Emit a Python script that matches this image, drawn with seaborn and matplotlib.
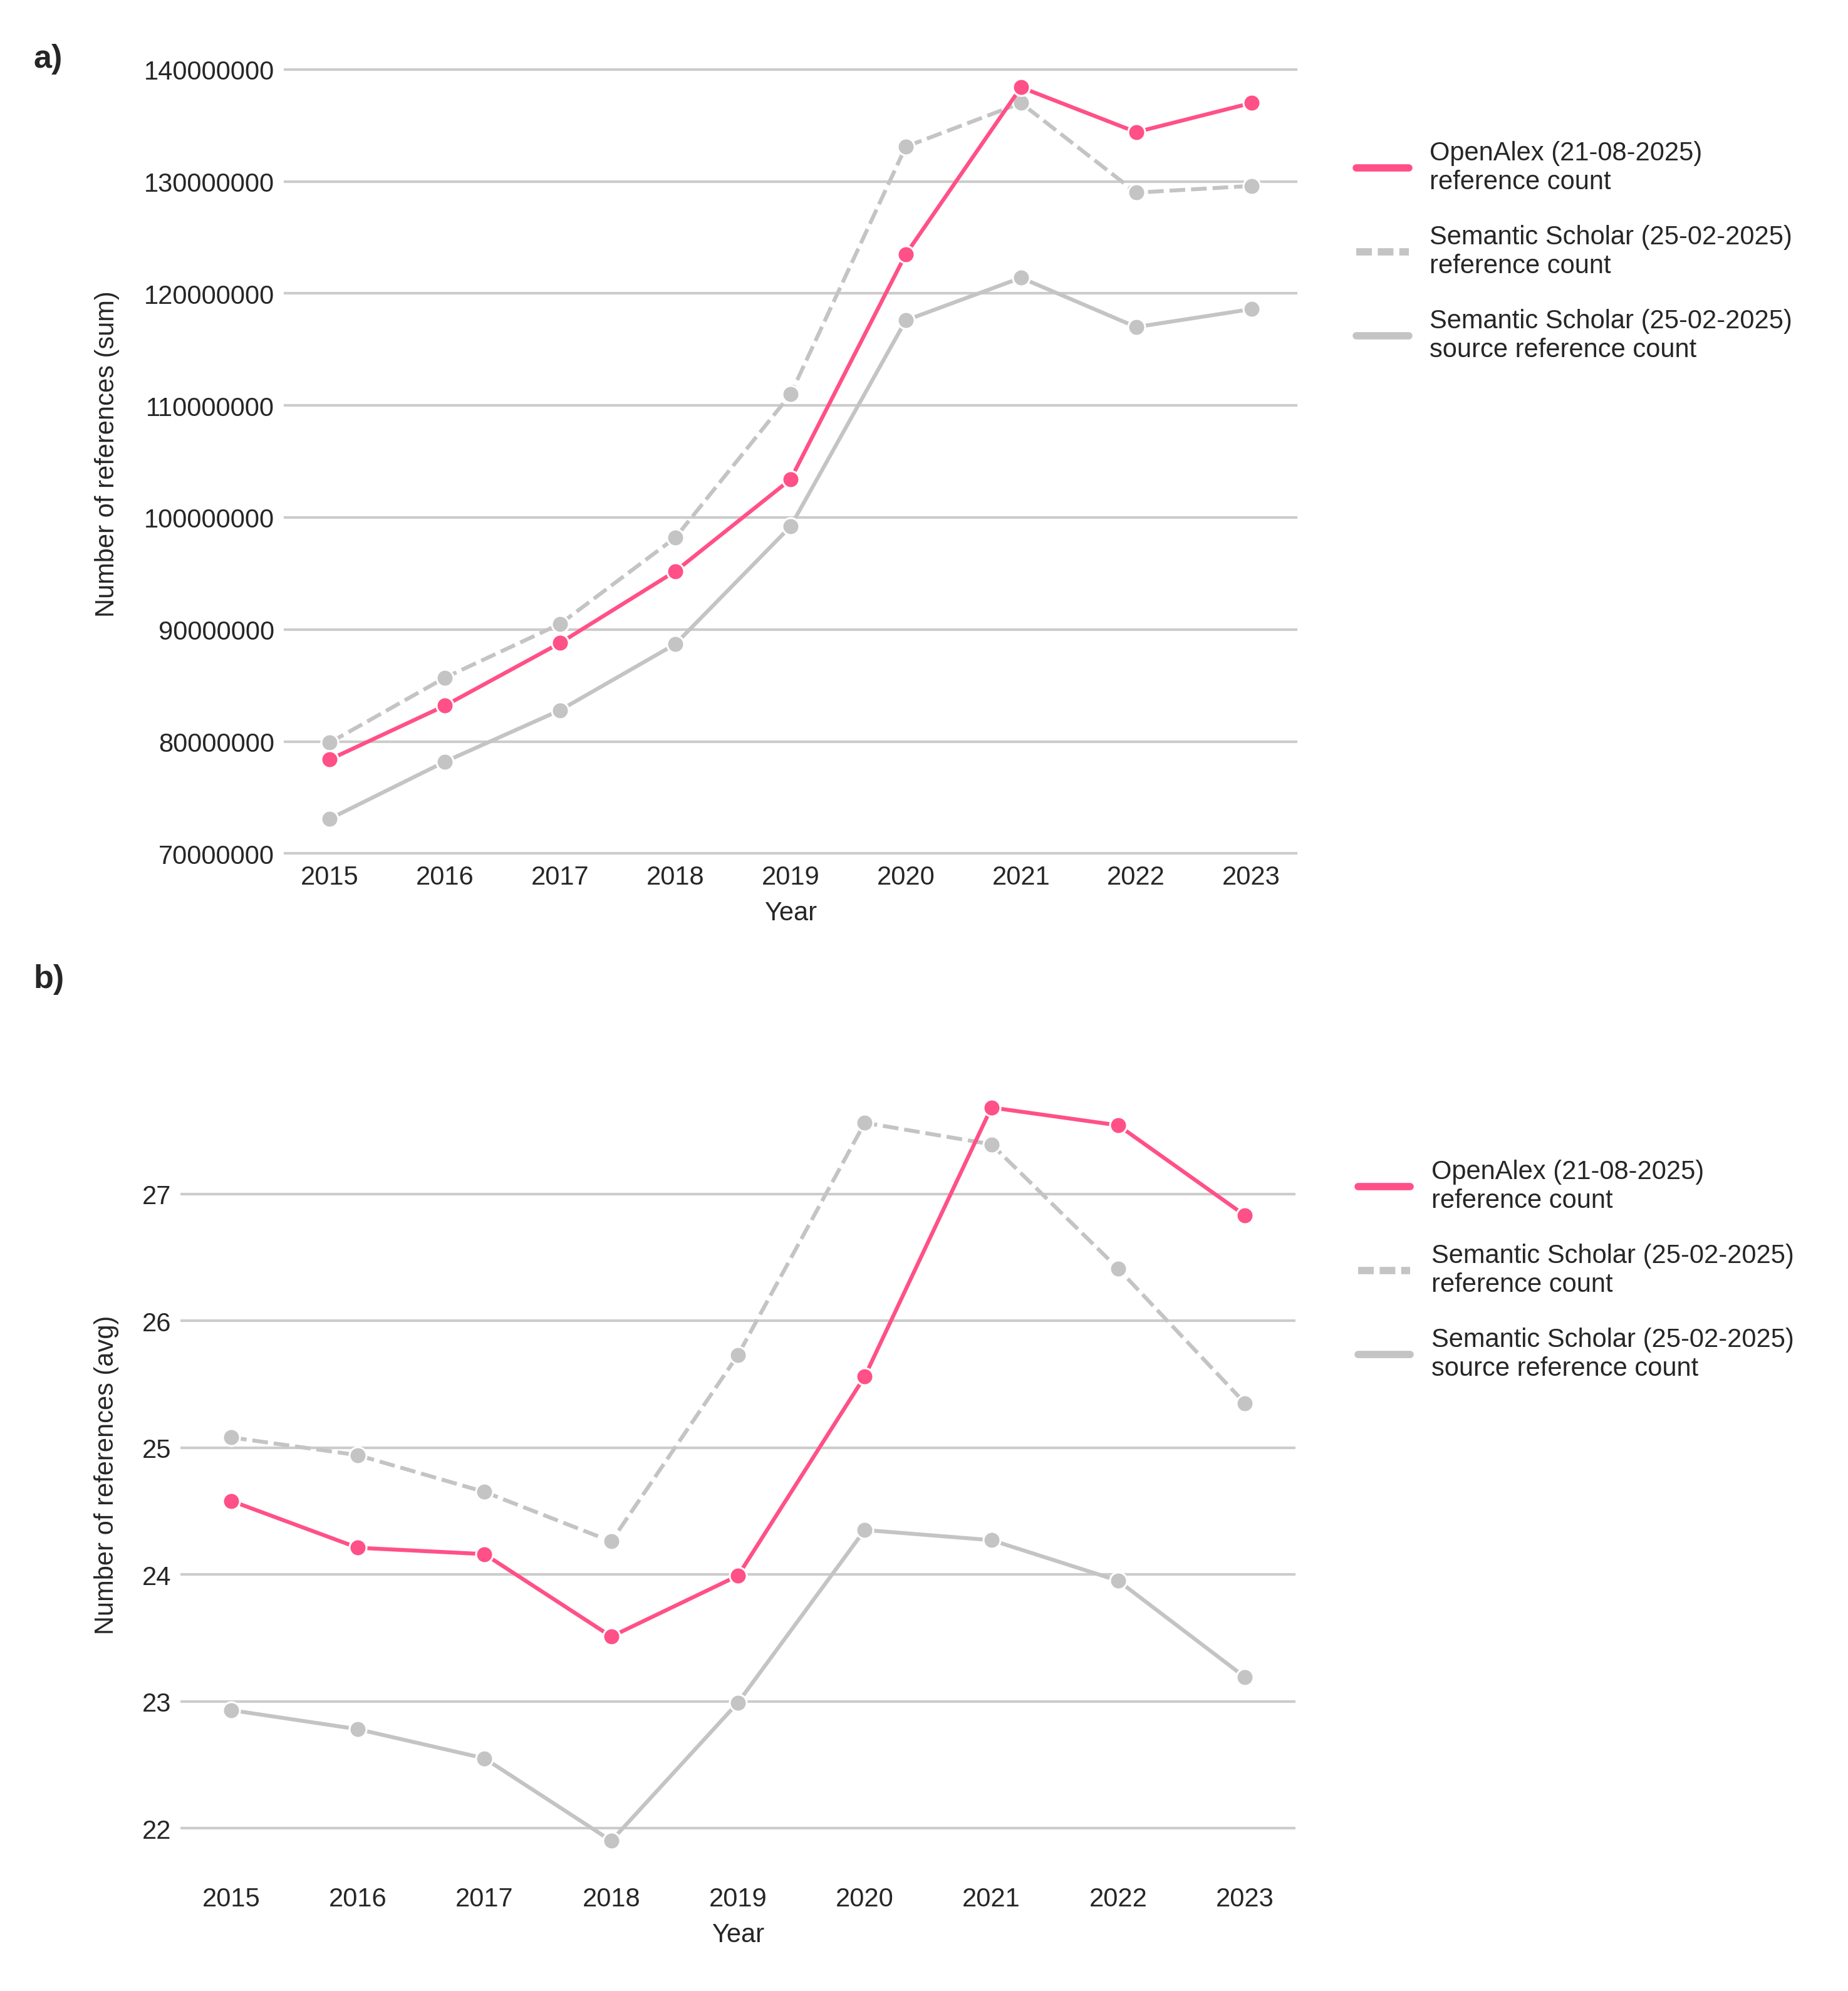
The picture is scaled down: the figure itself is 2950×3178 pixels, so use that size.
#!/usr/bin/env python3
"""
Reference counts per publication year: OpenAlex vs Semantic Scholar.
a) summed reference counts, b) average reference counts.
"""
import pandas as pd
import matplotlib
matplotlib.use('Agg')
import matplotlib.pyplot as plt
from matplotlib.lines import Line2D
import seaborn as sns

YEARS = [2015, 2016, 2017, 2018, 2019, 2020, 2021, 2022, 2023]

OA_LABEL = 'OpenAlex (21-08-2025)\nreference count'
SS_REF_LABEL = 'Semantic Scholar (25-02-2025)\nreference count'
SS_SRC_LABEL = 'Semantic Scholar (25-02-2025)\nsource reference count'

# a) sum of references per year
oa_sum = [78.4e6, 83.2e6, 88.8e6, 95.2e6, 103.4e6, 123.5e6, 138.4e6, 134.4e6, 137.0e6]
ss_ref_sum = [79.9e6, 85.7e6, 90.5e6, 98.2e6, 111.0e6, 133.1e6, 137.0e6, 129.0e6, 129.6e6]
ss_src_sum = [73.1e6, 78.2e6, 82.8e6, 88.7e6, 99.2e6, 117.6e6, 121.4e6, 117.0e6, 118.6e6]

# b) average number of references per year
oa_avg = [24.58, 24.21, 24.16, 23.51, 23.99, 25.56, 27.68, 27.54, 26.83]
ss_ref_avg = [25.08, 24.94, 24.65, 24.26, 25.73, 27.56, 27.39, 26.41, 25.35]
ss_src_avg = [22.93, 22.78, 22.55, 21.90, 22.99, 24.35, 24.27, 23.95, 23.19]

PINK = '#ff5087'
GREY = '#c4c4c4'
PALETTE = {OA_LABEL: PINK, SS_REF_LABEL: GREY, SS_SRC_LABEL: GREY}
DASHES = {OA_LABEL: '', SS_REF_LABEL: (4, 1.5), SS_SRC_LABEL: ''}
MARKERS = {OA_LABEL: 'o', SS_REF_LABEL: 'o', SS_SRC_LABEL: 'o'}
DRAW_ORDER = [SS_SRC_LABEL, SS_REF_LABEL, OA_LABEL]
LEGEND_ORDER = [OA_LABEL, SS_REF_LABEL, SS_SRC_LABEL]


def long_frame(oa, ss_ref, ss_src):
    parts = []
    for label, vals in [(OA_LABEL, oa), (SS_REF_LABEL, ss_ref), (SS_SRC_LABEL, ss_src)]:
        parts.append(pd.DataFrame({'year': YEARS, 'value': vals, 'source': label}))
    return pd.concat(parts, ignore_index=True)


def draw_panel(ax, df, ylabel, label_x, legend_y):
    sns.lineplot(data=df, x='year', y='value', hue='source', style='source',
                 hue_order=DRAW_ORDER, style_order=DRAW_ORDER,
                 palette=PALETTE, dashes=DASHES, markers=MARKERS,
                 markersize=6.5, linewidth=1.5, legend=False, ax=ax)
    ax.set_xticks(YEARS)
    ax.set_xticklabels([str(y) for y in YEARS])
    ax.set_xlabel('Year', fontsize=10)
    ax.set_ylabel(ylabel, fontsize=10)
    ax.yaxis.set_label_coords(label_x, 0.5)
    ax.tick_params(axis='both', labelsize=10, length=0)
    ax.grid(axis='x', visible=False)
    ax.grid(axis='y', color='#cccccc', linewidth=1.0)
    sns.despine(ax=ax, left=True, bottom=True)

    handles = []
    for lab in LEGEND_ORDER:
        h = Line2D([], [], color=PALETTE[lab], linewidth=2.8, solid_capstyle='round')
        if DASHES[lab]:
            h.set_dashes((6 / 2.8, 2.25 / 2.8))
        handles.append(h)
    ax.legend(handles, LEGEND_ORDER, loc='upper left', bbox_to_anchor=(1.035, legend_y),
              frameon=False, fontsize=10, labelspacing=1.15, handlelength=2.0)


def main():
    sns.set_theme(style='whitegrid')
    plt.rcParams['font.family'] = ['Liberation Sans', 'DejaVu Sans']
    plt.rcParams['text.color'] = '.15'

    fig = plt.figure(figsize=(2950 / 300, 3179 / 300), dpi=300)
    ax_a = fig.add_axes([0.1535, 0.5702, 0.5486, 0.404])
    ax_b = fig.add_axes([0.0976, 0.057, 0.6035, 0.405])

    draw_panel(ax_a, long_frame(oa_sum, ss_ref_sum, ss_src_sum),
               'Number of references (sum)', -0.162, 0.918)
    ax_a.ticklabel_format(axis='y', style='plain', useOffset=False)

    draw_panel(ax_b, long_frame(oa_avg, ss_ref_avg, ss_src_avg),
               'Number of references (avg)', -0.055, 0.92)

    fig.text(0.018, 0.978, 'a)', fontsize=12.5, fontweight='bold', va='top', ha='left')
    fig.text(0.018, 0.516, 'b)', fontsize=12.5, fontweight='bold', va='top', ha='left')

    fig.savefig('out.png', dpi=300, facecolor='white')


if __name__ == '__main__':
    main()
